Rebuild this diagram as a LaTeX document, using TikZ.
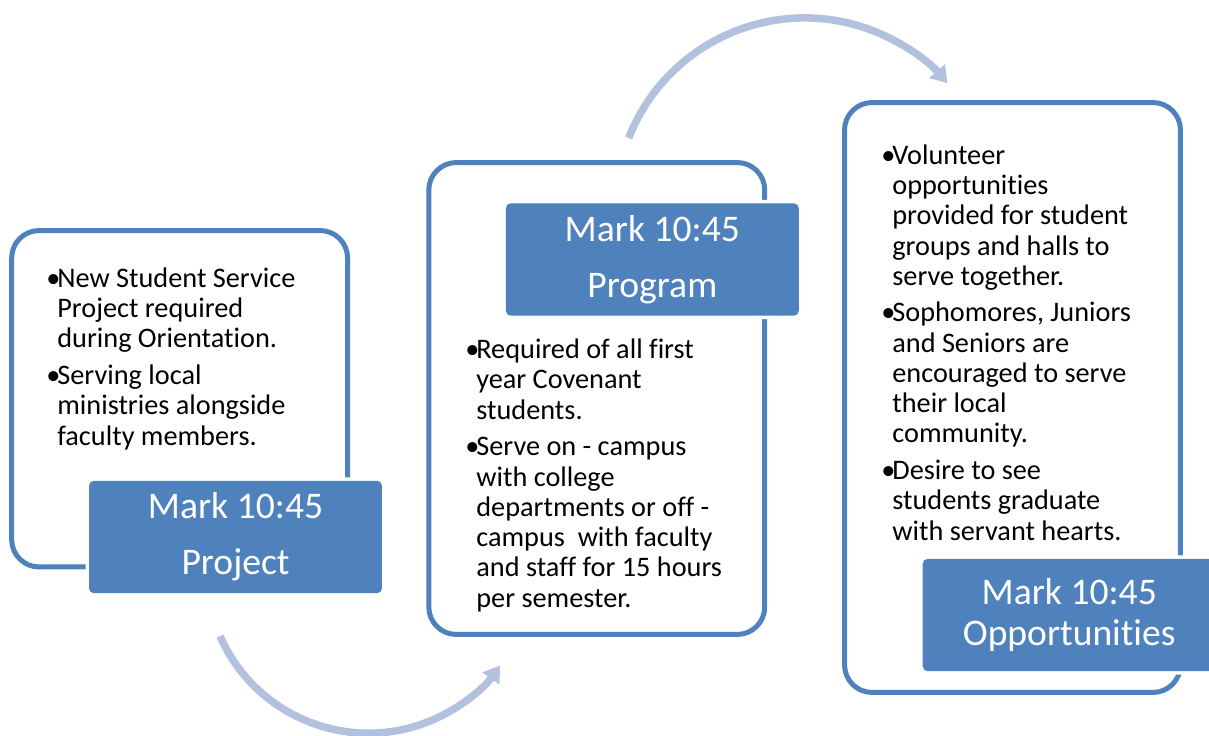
\documentclass[tikz,border=0pt]{standalone}
\usepackage{fontspec}
\setmainfont{Carlito}[Ligatures=NoCommon]
\usetikzlibrary{arrows.meta}
\definecolor{AccentBlue}{RGB}{79,129,189}
\definecolor{ArcBlue}{RGB}{177,193,222}
\newcommand{\bul}{\makebox[0.22cm][l]{•}}
\newcommand{\ind}{\hspace*{0.22cm}}

\begin{document}
\begin{tikzpicture}[
  x=0.02cm, y=-0.02cm,
  panel/.style={draw=AccentBlue, line width=0.1cm, rounded corners=0.55cm, fill=white, minimum width=6.72cm},
  tag/.style={fill=AccentBlue, rounded corners=0.1cm, minimum width=5.86cm, minimum height=2.25cm, text=white, align=center, inner sep=0pt, preaction={draw=white, line width=0.14cm}, font=\fontsize{21.4pt}{31.8pt}\selectfont},
  bullets/.style={anchor=base west, inner sep=0pt, align=left, font=\fontsize{16.1pt}{17.2pt}\selectfont},
  flow/.style={-{Triangle[length=0.32cm, width=0.4cm]}, line width=0.15cm, ArcBlue}
]
  \useasboundingbox (0,0) rectangle (1209,736);

  % Curved arrows between the steps
  \coordinate (a1) at (220,636);
  \draw[flow] (a1) arc[start angle=156.4, end angle=35.6, radius=162];
  \coordinate (a2) at (628.7,138);
  \draw[flow] (a2) arc[start angle=201.4, end angle=319.1, radius=189];

  % Panels
  \node[panel, minimum height=6.73cm] (box1) at (179.6, 398.75) {};
  \node[panel, minimum height=9.44cm] (box2) at (596.75, 398.5) {};
  \node[panel, minimum height=11.8cm] (box3) at (1012.5, 397.5) {};

  % Panel texts (placed by the baseline of their last line)
  \node[bullets] (txt1) at (46, 445) {\bul New Student Service\\ \ind Project required\\ \ind during Orientation.\\[0.13cm]
    \bul Serving local\\ \ind ministries alongside\\ \ind faculty members.};
  \node[bullets] (txt2) at (465, 607) {\bul Required of all first\\ \ind year Covenant\\ \ind students.\\[0.13cm]
    \bul Serve on - campus\\ \ind with college\\ \ind departments or off -\\ \ind campus\ \ with faculty\\ \ind and staff for 15 hours\\ \ind per semester.};
  \node[bullets] (txt3) at (881, 540) {\bul Volunteer\\ \ind opportunities\\ \ind provided for student\\ \ind groups and halls to\\ \ind serve together.\\[0.13cm]
    \bul Sophomores, Juniors\\ \ind and Seniors are\\ \ind encouraged to serve\\ \ind their local\\ \ind community.\\[0.13cm]
    \bul Desire to see\\ \ind students graduate\\ \ind with servant hearts.};

  % Title tags
  \node[tag] (tag1) at (235.5, 537) {Mark 10:45\\Project};
  \node[tag] (tag2) at (652.3, 259.5) {Mark 10:45\\Program};
  \node[tag, font=\fontsize{21.4pt}{23.2pt}\selectfont] (tag3) at (1069.2, 615) {Mark 10:45\\Opportunities};
\end{tikzpicture}
\end{document}
